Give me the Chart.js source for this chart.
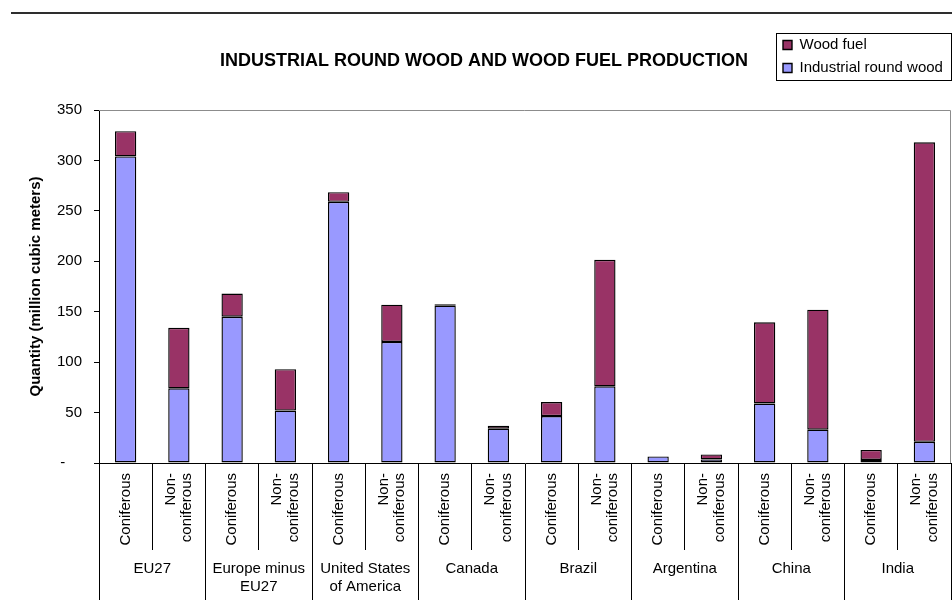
<!DOCTYPE html>
<html>
<head>
<meta charset="utf-8">
<title>Industrial round wood and wood fuel production</title>
<script src="https://cdn.jsdelivr.net/npm/chart.js@4.4.1/dist/chart.umd.min.js"></script>
<style>
  html, body { margin: 0; padding: 0; background: #ffffff; }
  #wrap { position: relative; width: 952px; height: 606px; }
  canvas { display: block; }
</style>
</head>
<body>
<div id="wrap"><canvas id="chart" width="952" height="606"></canvas></div>
<script>
// ---- data (million cubic meters) ----
const regions = ['EU27', 'Europe minus EU27', 'United States of America', 'Canada', 'Brazil', 'Argentina', 'China', 'India'];
const regionTickLines = [['EU27'], ['Europe minus', 'EU27'], ['United States', 'of America'], ['Canada'], ['Brazil'], ['Argentina'], ['China'], ['India']];
const woodTypes = ['Coniferous', 'Non-coniferous'];
const woodTypeTickLines = [['', 'Coniferous'], ['Non-', 'coniferous']];
const industrialRoundWood = [304, 74, 145, 52, 259, 120, 156, 34, 46.5, 76, 6.5, 3.5, 59, 33, 3, 21];
const woodFuel = [25, 60, 23, 41, 9.5, 37, 1.5, 3, 14, 125.5, 0, 5, 80.5, 119, 10, 297];
const yTicks = [0, 50, 100, 150, 200, 250, 300, 350];
const seriesNames = ['Industrial round wood', 'Wood fuel'];
const chartTitle = 'INDUSTRIAL ROUND WOOD AND WOOD FUEL PRODUCTION';
const yTitle = 'Quantity (million cubic meters)';

// category labels (region x wood type)
const categoryLabels = [];
regions.forEach(() => woodTypeTickLines.forEach(l => categoryLabels.push(l)));

const FONT = "'Liberation Sans', Arial, Helvetica, sans-serif";
Chart.defaults.font.family = FONT;
Chart.defaults.color = '#000';

const SUB_LH = 16.5;

const framePlugin = {
  id: 'frame',
  beforeDraw(chart) {
    const ctx = chart.ctx;
    ctx.save();
    ctx.fillStyle = '#ffffff';
    ctx.fillRect(0, 0, chart.width, chart.height);
    ctx.fillStyle = '#2e2e2e';
    ctx.fillRect(11, 12, chart.width - 11, 2);
    ctx.restore();
  },
  beforeDatasetsDraw(chart) {
    const {ctx, chartArea: a} = chart;
    ctx.save();
    ctx.strokeStyle = '#8c8c8c';
    ctx.lineWidth = 1;
    ctx.beginPath();
    ctx.moveTo(a.left, Math.round(a.top) + 0.5);
    ctx.lineTo(Math.round(a.right) - 0.5, Math.round(a.top) + 0.5);
    ctx.lineTo(Math.round(a.right) - 0.5, a.bottom);
    ctx.stroke();
    ctx.restore();
  },
  afterLayout(chart) {
    const lg = chart.legend;
    if (lg) { lg.left = 775; lg.top = 29.5; }
  },
  afterDraw(chart) {
    const ctx = chart.ctx;
    ctx.save();
    ctx.strokeStyle = '#000';
    ctx.lineWidth = 1;
    ctx.strokeRect(776.5, 33.5, 175, 47);
    ctx.restore();
  }
};

new Chart(document.getElementById('chart'), {
  type: 'bar',
  data: {
    labels: categoryLabels,
    datasets: [
      {
        label: seriesNames[0],
        data: industrialRoundWood,
        backgroundColor: '#9999FF',
        borderColor: '#000000',
        borderWidth: 1.4,
        borderSkipped: false,
        xAxisID: 'x', yAxisID: 'y'
      },
      {
        label: seriesNames[1],
        data: woodFuel,
        backgroundColor: '#993366',
        borderColor: '#000000',
        borderWidth: 1.4,
        borderSkipped: false,
        xAxisID: 'x', yAxisID: 'y'
      }
    ]
  },
  options: {
    responsive: false,
    devicePixelRatio: 1,
    animation: false,
    barPercentage: 0.4,
    categoryPercentage: 1,
    layout: { padding: { left: 17, right: 1, top: 0, bottom: 6 } },
    plugins: {
      tooltip: { enabled: false },
      title: {
        display: true,
        text: chartTitle,
        color: '#000',
        font: { family: FONT, size: 18, weight: 'bold' },
        padding: { top: 50, bottom: 38.4 }
      },
      legend: {
        display: true,
        position: 'chartArea',
        align: 'start',
        reverse: true,
        labels: {
          boxWidth: 9,
          boxHeight: 9,
          padding: 8,
          color: '#000',
          font: { family: FONT, size: 15 }
        }
      }
    },
    scales: {
      x: {
        type: 'category',
        axis: 'x',
        position: 'bottom',
        stacked: true,
        offset: true,
        weight: 0,
        grid: { offset: true, drawOnChartArea: false, drawTicks: true, tickLength: 87, color: '#000', lineWidth: 1 },
        border: { display: true, color: '#000', width: 1 },
        ticks: {
          autoSkip: false,
          minRotation: 90,
          maxRotation: 90,
          padding: -77,
          labelOffset: -SUB_LH / 2,
          color: '#000',
          font: (c) => {
            const lbl = categoryLabels[c.index] || [];
            const twoLine = lbl[0] !== '';
            return { family: FONT, size: 15, lineHeight: (twoLine ? SUB_LH : SUB_LH / 2) + 'px' };
          }
        },
        afterFit: (s) => { s.height = 87; }
      },
      x2: {
        type: 'category',
        axis: 'x',
        position: 'bottom',
        labels: regionTickLines,
        offset: true,
        weight: 1,
        grid: { offset: true, drawOnChartArea: false, drawTicks: true, tickLength: 50, color: '#000', lineWidth: 1 },
        border: { display: false },
        ticks: {
          autoSkip: false,
          maxRotation: 0,
          minRotation: 0,
          padding: -40,
          color: '#000',
          font: { family: FONT, size: 15, lineHeight: 1.2 }
        },
        afterFit: (s) => { s.height = 50; }
      },
      y: {
        type: 'linear',
        position: 'left',
        stacked: true,
        min: yTicks[0],
        max: yTicks[yTicks.length - 1],
        afterBuildTicks: (s) => { s.ticks = yTicks.map(v => ({ value: v })); },
        grid: { drawOnChartArea: false, drawTicks: true, tickLength: 5, color: '#000' },
        border: { display: true, color: '#000', width: 1 },
        ticks: {
          padding: 12,
          color: '#000',
          font: { family: FONT, size: 15 },
          callback: (v) => (v === 0 ? '-\u2007\u2007' : String(v))
        },
        title: {
          display: true,
          text: yTitle,
          color: '#000',
          font: { family: FONT, size: 15, weight: 'bold' },
          padding: { top: 10, bottom: 0 }
        },
        afterFit: (s) => { s.width = 82; }
      }
    }
  },
  plugins: [framePlugin]
});
</script>
</body>
</html>
